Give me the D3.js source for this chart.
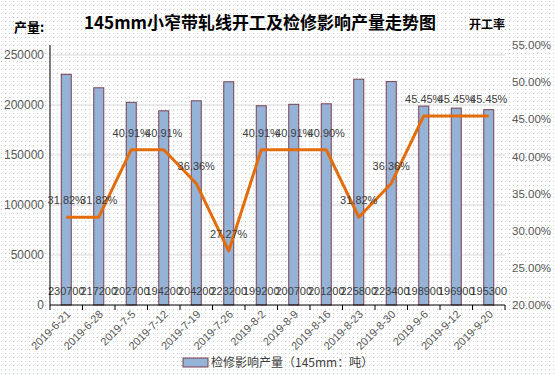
<!DOCTYPE html>
<html>
<head>
<meta charset="utf-8">
<script src="https://cdn.jsdelivr.net/npm/d3@7"></script>
<style>
  body { margin: 0; }
  text { font-family: "Noto Sans CJK SC", "DejaVu Sans", sans-serif; }
</style>
</head>
<body>
<div id="chart"></div>
<script>
var dates = ["2019-6-21", "2019-6-28", "2019-7-5", "2019-7-12", "2019-7-19", "2019-7-26",
             "2019-8-2", "2019-8-9", "2019-8-16", "2019-8-23", "2019-8-30", "2019-9-6",
             "2019-9-12", "2019-9-20"];
var output = [230700, 217200, 202700, 194200, 204200, 223200, 199200,
              200700, 201200, 225800, 223400, 198900, 196900, 195300];
var rate = [31.82, 31.82, 40.91, 40.91, 36.36, 27.27, 40.91,
            40.91, 40.90, 31.82, 36.36, 45.45, 45.45, 45.45];
var leftTicks = [0, 50000, 100000, 150000, 200000, 250000];
var rightTicks = [20, 25, 30, 35, 40, 45, 50, 55];

var W = 556, H = 374;
var margin = {top: 45, right: 51, bottom: 69, left: 50};
var width = W - margin.left - margin.right;
var height = H - margin.top - margin.bottom;
var numFont = "'Liberation Sans', Arial, sans-serif";

var svg = d3.select("#chart").append("svg")
    .attr("width", W)
    .attr("height", H);

// dotted background
var pat = svg.append("defs").append("pattern")
    .attr("id", "dots")
    .attr("width", 4).attr("height", 4)
    .attr("patternUnits", "userSpaceOnUse");
pat.append("rect").attr("width", 4).attr("height", 4).attr("fill", "#fff");
pat.append("rect").attr("x", 1).attr("y", 1).attr("width", 1).attr("height", 1).attr("fill", "#c4cccc");
svg.append("rect").attr("width", W).attr("height", H).attr("fill", "url(#dots)");

var g = svg.append("g")
    .attr("transform", "translate(" + margin.left + "," + margin.top + ")");

var x = d3.scaleBand().domain(dates).range([0, width]);
var yL = d3.scaleLinear().domain([0, 260000]).range([height, 0]);
var yR = d3.scaleLinear().domain([20, 55]).range([height, 0]);

// gridlines
g.selectAll(".grid")
  .data(leftTicks.slice(1))
  .enter().append("line")
    .attr("x1", 0).attr("x2", width)
    .attr("y1", function(d) { return yL(d); })
    .attr("y2", function(d) { return yL(d); })
    .attr("stroke", "#d9d9d9").attr("stroke-width", 1);

// bars
var bw = 10;
g.selectAll(".bar")
  .data(output)
  .enter().append("rect")
    .attr("x", function(d, i) { return x(dates[i]) + x.bandwidth() / 2 - bw / 2; })
    .attr("y", function(d) { return yL(d); })
    .attr("width", bw)
    .attr("height", function(d) { return height - yL(d); })
    .attr("fill", "#95b3d7")
    .attr("stroke", "#7b3f4f")
    .attr("stroke-width", 1);

// bar labels at base
g.selectAll(".blabel")
  .data(output)
  .enter().append("text")
    .attr("x", function(d, i) { return x(dates[i]) + x.bandwidth() / 2; })
    .attr("y", height - 10)
    .attr("text-anchor", "middle")
    .attr("font-size", 11)
    .attr("fill", "#404040")
    .style("font-family", numFont)
    .text(function(d) { return d; });

// axes
var left = g.append("g")
    .call(d3.axisLeft(yL).tickValues(leftTicks).tickSize(0).tickPadding(6)
      .tickFormat(d3.format("d")));
left.select(".domain").attr("stroke", "#000").attr("d", "M0,0V" + height);
left.selectAll("text").attr("font-size", 12).attr("fill", "#595959")
    .style("font-family", numFont);

var right = g.append("g")
    .attr("transform", "translate(" + width + ",0)")
    .call(d3.axisRight(yR).tickValues(rightTicks).tickSize(0).tickPadding(7)
      .tickFormat(function(d) { return d.toFixed(2) + "%"; }));
right.select(".domain").remove();
right.selectAll("text").attr("font-size", 11.5).attr("fill", "#595959")
    .style("font-family", numFont);

var bottom = g.append("g")
    .attr("transform", "translate(0," + height + ")");
bottom.append("line").attr("x1", 0).attr("x2", width).attr("stroke", "#000");
var edges = dates.map(function(d) { return x(d); }).concat([width]);
bottom.selectAll(".tk")
  .data(edges)
  .enter().append("line")
    .attr("x1", function(d) { return d; }).attr("x2", function(d) { return d; })
    .attr("y1", 0).attr("y2", 5)
    .attr("stroke", "#000");
bottom.selectAll(".xl")
  .data(dates)
  .enter().append("text")
    .attr("transform", function(d) {
      return "translate(" + (x(d) + x.bandwidth() / 2 + 5) + ",10) rotate(-45)";
    })
    .attr("text-anchor", "end")
    .attr("font-size", 11)
    .attr("fill", "#595959")
    .style("font-family", numFont)
    .text(function(d) { return d; });

// rate line
var line = d3.line()
    .x(function(d, i) { return x(dates[i]) + x.bandwidth() / 2; })
    .y(function(d) { return yR(d); });
g.append("path")
    .datum(rate)
    .attr("d", line)
    .attr("fill", "none")
    .attr("stroke", "#e46c0a")
    .attr("stroke-width", 3)
    .attr("stroke-linejoin", "round");

g.selectAll(".rlabel")
  .data(rate)
  .enter().append("text")
    .attr("x", function(d, i) { return x(dates[i]) + x.bandwidth() / 2; })
    .attr("y", function(d) { return yR(d) - 13; })
    .attr("text-anchor", "middle")
    .attr("font-size", 11)
    .attr("fill", "#404040")
    .style("font-family", numFont)
    .text(function(d) { return d.toFixed(2) + "%"; });

// titles
svg.append("text")
    .attr("x", 260).attr("y", 29)
    .attr("text-anchor", "middle")
    .attr("font-size", 17).attr("font-weight", "bold")
    .attr("fill", "#000")
    .text("145mm小窄带轧线开工及检修影响产量走势图");
svg.append("text")
    .attr("x", 14).attr("y", 32)
    .attr("font-size", 13).attr("font-weight", "bold")
    .text("产量:");
svg.append("text")
    .attr("x", 469).attr("y", 29)
    .attr("font-size", 12).attr("font-weight", "bold")
    .text("开工率");

// legend
svg.append("rect")
    .attr("x", 183).attr("y", 358).attr("width", 25).attr("height", 9)
    .attr("fill", "#95b3d7").attr("stroke", "#7b3f4f");
svg.append("text")
    .attr("x", 211).attr("y", 367)
    .attr("font-size", 12).attr("fill", "#404040")
    .text("检修影响产量（145mm：吨）");
</script>
</body>
</html>
